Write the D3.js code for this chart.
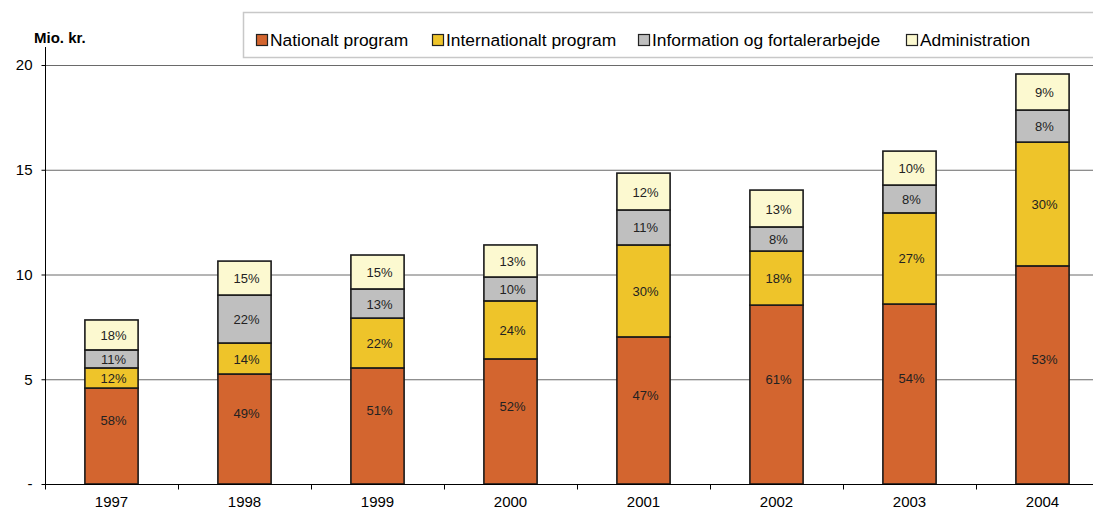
<!DOCTYPE html>
<html>
<head>
<meta charset="utf-8">
<script src="https://d3js.org/d3.v7.min.js"></script>
<style>
    body { margin: 0; background: #fff; }
    svg { font-family: "Liberation Sans", Arial, sans-serif; }
    .grid line { stroke: #6a6a6a; stroke-width: 1px; }
    .axis path, .axis line { stroke: black; }
    .axis text { font-size: 15px; fill: black; }
    .seg { stroke: #1a1a1a; stroke-width: 1.6px; }
    .pct { font-size: 13px; fill: #222; text-anchor: middle; }
    .legend text { font-size: 17.4px; fill: black; }
</style>
</head>
<body>
<script>
    const years = ["1997", "1998", "1999", "2000", "2001", "2002", "2003", "2004"];
    const series = ["Nationalt program", "Internationalt program", "Information og fortalerarbejde", "Administration"];
    const colors = ["#D3652F", "#EEC42A", "#BFBFBF", "#FCF9D0"];

    // Mio. kr. per segment
    const nationalt = [4.58, 5.25, 5.54, 5.97, 7.02, 8.54, 8.59, 10.41];
    const internationalt = [0.96, 1.48, 2.38, 2.77, 4.39, 2.58, 4.35, 5.91];
    const information = [0.86, 2.29, 1.39, 1.14, 1.67, 1.15, 1.33, 1.53];
    const administration = [1.43, 1.62, 1.62, 1.53, 1.76, 1.76, 1.62, 1.72];

    // percentage labels as printed
    const pctNationalt = ["58%", "49%", "51%", "52%", "47%", "61%", "54%", "53%"];
    const pctInternationalt = ["12%", "14%", "22%", "24%", "30%", "18%", "27%", "30%"];
    const pctInformation = ["11%", "22%", "13%", "10%", "11%", "8%", "8%", "8%"];
    const pctAdministration = ["18%", "15%", "15%", "13%", "12%", "13%", "10%", "9%"];

    const yTicks = [0, 5, 10, 15, 20];

    const values = [nationalt, internationalt, information, administration];
    const pcts = [pctNationalt, pctInternationalt, pctInformation, pctAdministration];

    const w = 1093, h = 512;
    const mLeft = 45, mRight = 1109, mTop = 65, mBottom = 484;

    const svg = d3.select("body").append("svg")
        .attr("width", w)
        .attr("height", h);

    const x = d3.scaleBand()
        .domain(years)
        .range([mLeft, mRight])
        .paddingInner(0.6)
        .paddingOuter(0.3);

    const xOuter = d3.scaleBand().domain(years).range([mLeft, mRight]);

    const y = d3.scaleLinear()
        .domain([0, 20])
        .range([mBottom, mTop]);

    // gridlines
    svg.append("g").attr("class", "grid")
        .selectAll("line")
        .data(yTicks.slice(1))
        .join("line")
        .attr("x1", mLeft).attr("x2", mRight)
        .attr("y1", d => y(d) + 0.5).attr("y2", d => y(d) + 0.5)
        .attr("stroke", d => d === 20 ? "#222" : null);

    // stacked data
    const table = years.map((yr, i) => {
        const row = { year: yr };
        series.forEach((s, k) => row[s] = values[k][i]);
        return row;
    });
    const stack = d3.stack().keys(series)(table);

    stack.forEach((layer, k) => {
        const g = svg.append("g");
        g.selectAll("rect")
            .data(layer)
            .join("rect")
            .attr("class", "seg")
            .attr("x", d => x(d.data.year))
            .attr("width", x.bandwidth())
            .attr("y", d => y(d[1]))
            .attr("height", d => y(d[0]) - y(d[1]))
            .attr("fill", colors[k]);
        // the bottom labels sit a little above the middle in the original
        const lift = k === 0 ? 0.75 : 0;
        g.selectAll("text")
            .data(layer)
            .join("text")
            .attr("class", "pct")
            .attr("x", d => x(d.data.year) + x.bandwidth() / 2 + 2)
            .attr("y", d => y((d[0] + d[1]) / 2 + lift) + 5)
            .text((d, i) => pcts[k][i]);
    });

    // axes
    const yAxis = d3.axisLeft(y)
        .tickValues(yTicks)
        .tickSize(4)
        .tickPadding(9)
        .tickFormat(d => d === 0 ? "-" : d);
    svg.append("g").attr("class", "axis")
        .attr("transform", "translate(" + (mLeft + 0.5) + ",0)")
        .call(yAxis)
        .call(g => g.select(".domain").attr("d", "M0," + (mTop - 18) + "V" + mBottom));

    const xAxis = d3.axisBottom(xOuter).tickSize(0).tickPadding(12);
    const gx = svg.append("g").attr("class", "axis")
        .attr("transform", "translate(0," + (mBottom + 0.5) + ")")
        .call(xAxis);
    gx.select(".domain").attr("d", "M" + mLeft + ",0H" + mRight);
    gx.selectAll(".sep")
        .data(years)
        .join("line")
        .attr("class", "sep")
        .attr("x1", d => xOuter(d) + 0.5).attr("x2", d => xOuter(d) + 0.5)
        .attr("y1", 0).attr("y2", 5);

    svg.append("text")
        .attr("x", 34).attr("y", 43)
        .attr("font-size", "15px")
        .attr("font-weight", "bold")
        .text("Mio. kr.");

    // legend
    const legend = svg.append("g").attr("class", "legend");
    legend.append("rect")
        .attr("x", 243.5).attr("y", 12.5)
        .attr("width", 900).attr("height", 45)
        .attr("fill", "white")
        .attr("stroke", "#c8c8c8")
        .attr("stroke-width", 1.5);
    const legX = [256, 432, 638, 906];
    series.forEach((s, k) => {
        legend.append("rect")
            .attr("x", legX[k] + 0.5).attr("y", 34.5)
            .attr("width", 11).attr("height", 11)
            .attr("fill", colors[k])
            .attr("stroke", "#222")
            .attr("stroke-width", 1.2);
        legend.append("text")
            .attr("x", legX[k] + 14).attr("y", 46)
            .text(s);
    });
</script>
</body>
</html>
